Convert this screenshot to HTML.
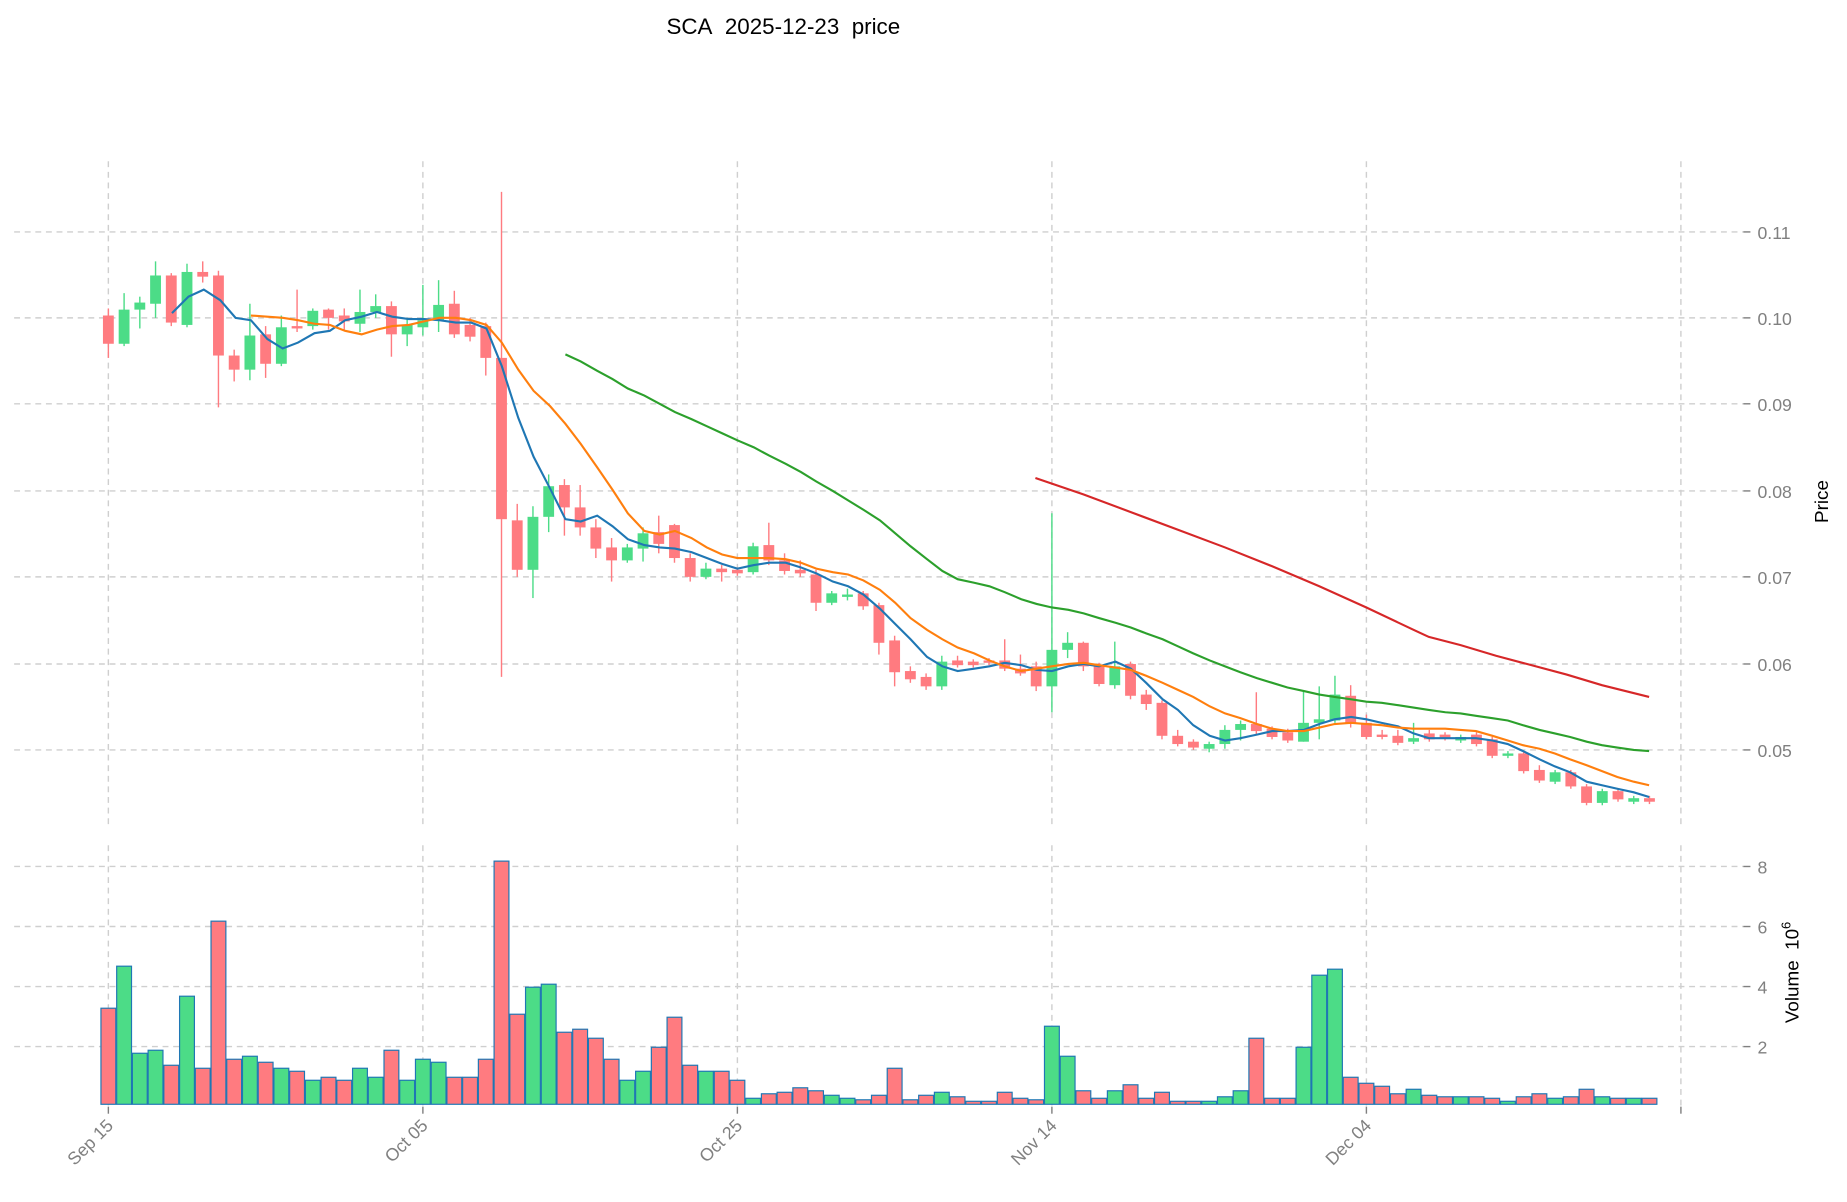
<!DOCTYPE html>
<html><head><meta charset="utf-8"><style>html,body{margin:0;padding:0;background:#fff}svg{display:block}</style></head>
<body>
<svg id="s" width="1847" height="1202" viewBox="0 0 1568 1021" preserveAspectRatio="none" xmlns="http://www.w3.org/2000/svg" font-family="Liberation Sans, DejaVu Sans, sans-serif">
<rect width="1568" height="1021" fill="#fff"/>
<text x="665" y="29" font-size="19" text-anchor="middle" fill="#000">SCA&#160; 2025-12-23&#160; price</text>
<g id="grid" stroke="#cfcfcf" stroke-width="1.2" stroke-dasharray="5,4"></g>
<g id="cd"></g><g id="vol"></g><g id="ma" fill="none" stroke-width="1.8"></g>
<g fill="#808080" font-size="15">
<text x="1492" y="203">0.11</text><text x="1492" y="276">0.10</text><text x="1492" y="349">0.09</text><text x="1492" y="423">0.08</text><text x="1492" y="496">0.07</text><text x="1492" y="570">0.06</text><text x="1492" y="643">0.05</text>
<text x="1492" y="742">8</text><text x="1492" y="793">6</text><text x="1492" y="844">4</text><text x="1492" y="895">2</text>
</g>
<g stroke="#808080" stroke-width="1.2">
<line x1="1480" y1="197" x2="1486" y2="197"/><line x1="1480" y1="270" x2="1486" y2="270"/><line x1="1480" y1="343" x2="1486" y2="343"/><line x1="1480" y1="417" x2="1486" y2="417"/><line x1="1480" y1="490" x2="1486" y2="490"/><line x1="1480" y1="564" x2="1486" y2="564"/><line x1="1480" y1="637" x2="1486" y2="637"/>
<line x1="1480" y1="736" x2="1486" y2="736"/><line x1="1480" y1="787" x2="1486" y2="787"/><line x1="1480" y1="838" x2="1486" y2="838"/><line x1="1480" y1="889" x2="1486" y2="889"/>
<line x1="92" y1="940" x2="92" y2="946"/><line x1="359" y1="940" x2="359" y2="946"/><line x1="626" y1="940" x2="626" y2="946"/><line x1="893" y1="940" x2="893" y2="946"/><line x1="1160" y1="940" x2="1160" y2="946"/><line x1="1427" y1="940" x2="1427" y2="946"/>
</g>
<text transform="translate(1552,426) rotate(-90)" font-size="16" text-anchor="middle">Price</text>
<text transform="translate(1527,826) rotate(-90)" font-size="16" text-anchor="middle">Volume&#160; 10<tspan dy="-7" font-size="11">6</tspan></text>
<g fill="#808080" font-size="15" text-anchor="end">
<text transform="translate(97,957) rotate(-45)">Sep 15</text>
<text transform="translate(364,957) rotate(-45)">Oct 05</text>
<text transform="translate(631,957) rotate(-45)">Oct 25</text>
<text transform="translate(898,957) rotate(-45)">Nov 14</text>
<text transform="translate(1165,957) rotate(-45)">Dec 04</text>
</g>
</svg>
<script>
var NS="http://www.w3.org/2000/svg";
function el(p,t,a){var e=document.createElementNS(NS,t);for(var k in a)e.setAttribute(k,a[k]);p.appendChild(e);return e;}
var g=document.getElementById('grid');
[197,270,343,417,490,564,637].forEach(function(y){el(g,'line',{x1:12,x2:1480,y1:y,y2:y});});
[736,787,838,889].forEach(function(y){el(g,'line',{x1:12,x2:1480,y1:y,y2:y});});
[92,359,626,893,1160,1427].forEach(function(x){el(g,'line',{x1:x,x2:x,y1:137,y2:700});el(g,'line',{x1:x,x2:x,y1:718,y2:940});});
var C=[[268,292,262,304,0],[263,292,249,294,1],[257,263,252,279,1],[234,258,222,270,1],[234,274,232,277,0],[231,276,224,278,1],[231,235,222,240,0],[234,302,230,346,0],[302,314,297,324,0],[285,314,258,323,1],[284,309,277,321,0],[278,309,268,311,1],[277,279,246,282,0],[264,277,262,280,1],[263,270,262,280,0],[268,273,262,280,0],[265,275,246,282,1],[260,265,250,270,1],[260,284,256,303,0],[276,284,270,294,1],[272,278,242,285,1],[259,272,238,282,1],[258,284,247,287,0],[276,286,270,290,0],[277,304,274,319,0],[304,441,163,575,0],[442,484,428,490,0],[439,484,430,508,1],[413,439,403,452,1],[412,431,407,455,0],[431,448,412,455,0],[448,466,441,474,0],[465,476,457,494,0],[465,476,462,478,1],[453,466,448,477,1],[452,462,438,470,0],[446,474,445,478,0],[474,490,470,494,0],[483,490,478,492,1],[483,486,480,494,0],[484,487,482,489,0],[464,486,461,488,1],[463,476,444,480,0],[476,485,470,488,0],[484,487,476,490,0],[488,512,484,519,0],[504,512,502,514,1],[505,507,500,510,1],[504,515,502,518,0],[514,546,512,556,0],[544,571,540,583,0],[570,577,566,580,0],[575,583,572,586,0],[562,583,557,586,1],[561,565,557,567,0],[562,565,560,567,0],[561,563,559,565,0],[561,568,543,570,0],[568,572,556,574,0],[566,583,562,587,0],[552,583,436,605,1],[546,552,537,559,1],[546,566,545,570,0],[565,581,563,583,0],[566,582,545,585,1],[564,591,562,594,0],[590,598,586,603,0],[597,625,595,628,0],[625,632,620,634,0],[630,635,628,637,0],[632,636,630,639,1],[620,632,616,636,1],[615,620,612,629,1],[615,621,588,624,0],[619,626,617,628,0],[622,629,619,631,0],[614,630,587,630,1],[611,614,583,628,1],[590,612,574,614,1],[591,614,582,618,0],[614,626,607,628,0],[624,626,620,628,0],[625,631,620,633,0],[627,630,614,632,1],[623,628,620,630,0],[624,627,622,629,0],[626,629,624,631,1],[624,632,622,634,0],[628,642,626,644,0],[640,642,638,644,1],[640,655,638,657,0],[654,663,650,665,0],[656,664,654,666,1],[656,668,654,670,0],[668,682,666,684,0],[672,682,670,684,1],[672,679,670,681,0],[678,681,676,683,1],[678,681,676,683,0]];
var V=[3.2,4.6,1.7,1.8,1.3,3.6,1.2,6.1,1.5,1.6,1.4,1.2,1.1,0.8,0.9,0.8,1.2,0.9,1.8,0.8,1.5,1.4,0.9,0.9,1.5,8.1,3.0,3.9,4.0,2.4,2.5,2.2,1.5,0.8,1.1,1.9,2.9,1.3,1.1,1.1,0.8,0.2,0.35,0.4,0.55,0.45,0.3,0.2,0.15,0.3,1.2,0.15,0.3,0.4,0.25,0.1,0.1,0.4,0.2,0.15,2.6,1.6,0.45,0.2,0.45,0.65,0.2,0.4,0.1,0.1,0.1,0.25,0.45,2.2,0.2,0.2,1.9,4.3,4.5,0.9,0.7,0.6,0.35,0.5,0.3,0.25,0.25,0.25,0.2,0.1,0.25,0.35,0.2,0.25,0.5,0.25,0.2,0.2,0.2];
var cd=document.getElementById('cd'),vg=document.getElementById('vol');
var n=C.length,sp=13.35;
var GR='#4cdc87',RD='#ff7b80';
for(var i=0;i<n;i++){var c=C[i],x=92+sp*i,col=c[4]?GR:RD;
el(cd,'line',{x1:x,x2:x,y1:c[2],y2:c[3],stroke:col,'stroke-width':1.2});
el(cd,'rect',{x:x-4.6,y:c[0],width:9.2,height:Math.max(1.5,c[1]-c[0]),fill:col});
var h=(V[i]||0.2)*25.5;el(vg,'rect',{x:x-6.3,y:938-h,width:12.6,height:h,fill:col,stroke:'#1f77b4','stroke-width':1});}
function pl(pts,col){el(document.getElementById('ma'),'polyline',{points:pts,stroke:col});}
pl("146,266 160,252 173,246 187,255 200,270 213,272 227,288 240,296 253,291 267,283 280,281 293,272 307,269 320,265 333,269 347,271 360,271 373,272 387,274 400,274 413,279 426,311 440,355 453,388 467,415 480,441 493,443 507,438 520,447 533,458 547,463 560,465 573,466 587,469 600,474 613,479 626,483 640,480 653,478 667,478 680,482 693,487 707,494 720,498 733,505 747,517 760,530 773,543 787,558 800,566 813,570 827,568 840,566 853,563 867,565 880,569 893,570 907,566 920,564 933,566 947,562 960,568 973,580 987,594 1000,603 1013,616 1027,625 1040,629 1053,627 1067,624 1080,621 1093,621 1107,620 1120,615 1133,611 1147,609 1160,611 1173,614 1187,617 1200,623 1213,627 1227,627 1240,627 1253,627 1267,629 1280,632 1293,638 1307,645 1320,651 1333,656 1347,664 1360,667 1373,670 1387,673 1400,677","#1f77b4");
pl("213,268 227,269 240,270 253,272 267,275 280,276 293,281 307,284 320,280 333,277 347,276 360,273 373,270 387,270 400,272 413,276 426,291 440,314 453,332 467,345 480,360 493,377 507,397 520,416 533,436 547,451 560,454 573,451 587,457 600,465 613,471 626,474 640,474 653,474 667,475 680,478 693,483 707,486 720,488 733,493 747,501 760,512 773,525 787,535 800,543 813,550 827,555 840,561 853,566 867,570 880,568 893,566 907,564 920,563 933,565 947,567 960,569 973,574 987,580 1000,586 1013,592 1027,600 1040,606 1053,610 1067,615 1080,619 1093,621 1107,621 1120,618 1133,615 1147,614 1160,615 1173,616 1187,618 1200,619 1213,619 1227,619 1240,620 1253,621 1267,625 1280,629 1293,633 1307,636 1320,640 1333,645 1347,650 1360,655 1373,660 1387,664 1400,667","#ff7f0e");
pl("480,301 493,307 507,315 520,322 533,330 547,336 560,343 573,350 587,356 600,362 613,368 626,374 640,380 653,387 667,394 680,401 693,409 707,417 720,425 733,433 747,442 760,453 773,464 787,475 800,485 813,492 827,495 840,498 853,503 867,509 880,513 893,516 907,518 920,521 933,525 947,529 960,533 973,538 987,543 1000,549 1013,555 1027,561 1040,566 1053,571 1067,576 1080,580 1093,584 1107,587 1120,590 1133,592 1147,594 1160,596 1173,597 1187,599 1200,601 1213,603 1227,605 1240,606 1253,608 1267,610 1280,612 1293,616 1307,620 1320,623 1333,626 1347,630 1360,633 1373,635 1387,637 1400,638","#2ca02c");
pl("879,406 920,420 960,435 1000,450 1040,465 1080,481 1120,498 1160,516 1200,535 1213,541 1240,548 1270,557 1300,565 1330,573 1360,582 1400,592","#d62728");
</script>
</body></html>
